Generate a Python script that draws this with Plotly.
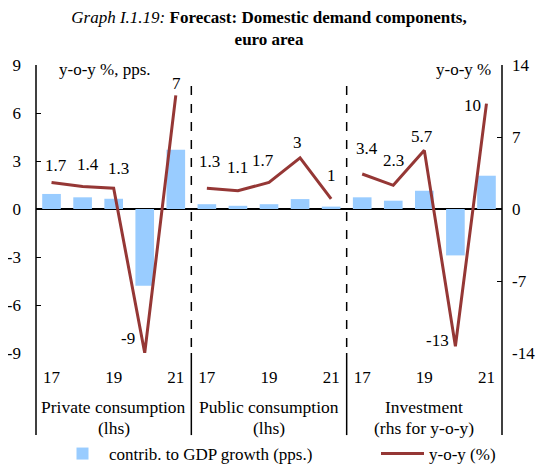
import plotly.graph_objects as go

# ---- data ----
group_names = ["Private consumption", "Public consumption", "Investment"]
group_notes = ["(lhs)", "(lhs)", "(rhs for y-o-y)"]
years = ["17", "18", "19", "20", "21"]
contrib_private = [0.94, 0.73, 0.64, -4.8, 3.7]
contrib_public = [0.3, 0.2, 0.3, 0.62, 0.15]
contrib_invest = [0.73, 0.52, 1.14, -2.9, 2.08]
yoy_private = [1.66, 1.4, 1.3, -9.0, 7.1]
yoy_public = [1.3, 1.14, 1.66, 3.2, 0.63]
yoy_invest = [3.4, 2.3, 5.7, -13.35, 10.25]
lbl_private = ["1.7", "1.4", "1.3", "-9", "7"]
lbl_public = ["1.3", "1.1", "1.7", "3", "1"]
lbl_invest = ["3.4", "2.3", "5.7", "-13", "10"]
tick_years = ["17", "19", "21"]
left_ticks = [-9, -6, -3, 0, 3, 6, 9]
right_ticks = [-14, -7, 0, 7, 14]

# label offsets (pixels)
sh_private = [(4, 17), (5, 22), (5, 20), (-17, 15), (1, 12)]
sh_public = [(3, 27), (0, 23), (-6, 22), (-3, 15), (0, 23)]
sh_invest = [(5, 26), (0, 25), (-2, 14), (-18, 6), (-14, -2)]

BAR = "#99CCFF"
LINE = "#953735"
FONT = "Liberation Serif"

# page has an 8px body margin: figure is placed at (8, 8)
W, H = 538, 456

n = len(years)
xpos = list(range(3 * n))
contrib_all = contrib_private + contrib_public + contrib_invest

fig = go.Figure()
fig.add_trace(go.Bar(x=xpos, y=contrib_all, width=0.6, marker=dict(color=BAR, line=dict(width=0)),
                     name="contrib. to GDP growth (pps.)", yaxis="y", legend="legend"))

series = [(yoy_private, "y", 0, lbl_private, sh_private),
          (yoy_public, "y", 1, lbl_public, sh_public),
          (yoy_invest, "y2", 2, lbl_invest, sh_invest)]
for vals, ax, g, lbls, shs in series:
    xs = [g * n + i for i in range(n)]
    fig.add_trace(go.Scatter(x=xs, y=vals, mode="lines", line=dict(color=LINE, width=3),
                             name="y-o-y (%)", showlegend=(g == 0), yaxis=ax, legend="legend2"))
    for xv, yv, t, (dx, dy) in zip(xs, vals, lbls, shs):
        fig.add_annotation(x=xv, y=yv, xref="x", yref=ax, text=t, showarrow=False,
                           xshift=dx, yshift=dy, font=dict(family=FONT, size=17, color="black"))

# x tick labels
tv, tt = [], []
for g in range(3):
    for t in tick_years:
        tv.append(g * n + years.index(t))
        tt.append(t)

# group labels
for g in range(3):
    fig.add_annotation(x=g * n + 2, y=-0.1875, xref="x", yref="paper", text=group_names[g], showarrow=False,
                       font=dict(family=FONT, size=17.5, color="black"), yanchor="middle")
    fig.add_annotation(x=g * n + 2, y=-0.26, xref="x", yref="paper", text=group_notes[g], showarrow=False,
                       font=dict(family=FONT, size=17.5, color="black"), yanchor="middle")

# axis unit labels
fig.add_annotation(x=0.147, y=0.983, xref="paper", yref="paper", text="y-o-y %, pps.", showarrow=False,
                   font=dict(family=FONT, size=17, color="black"), xanchor="center", yanchor="middle")
fig.add_annotation(x=0.98, y=0.983, xref="paper", yref="paper", text="y-o-y %", showarrow=False,
                   font=dict(family=FONT, size=17, color="black"), xanchor="right", yanchor="middle")

# shapes: axis lines, separators
bottom = -0.285
shapes = [
    dict(type="line", xref="paper", yref="paper", x0=0, x1=0, y0=bottom, y1=1, line=dict(color="black", width=1.5)),
    dict(type="line", xref="paper", yref="paper", x0=1, x1=1, y0=bottom, y1=1, line=dict(color="black", width=1.5)),
]
for b in (n - 0.5, 2 * n - 0.5):
    shapes.append(dict(type="line", xref="x", yref="paper", x0=b, x1=b, y0=bottom, y1=0,
                       line=dict(color="black", width=1.5)))
    shapes.append(dict(type="line", xref="x", yref="paper", x0=b, x1=b, y0=0.021, y1=0.941,
                       line=dict(color="black", width=1.5, dash="dash")))

legend_common = dict(orientation="h", xref="container", yref="container", y=1 - 446 / H,
                     xanchor="left", yanchor="middle", itemwidth=43,
                     font=dict(family=FONT, size=17), bgcolor="rgba(0,0,0,0)")

fig.update_layout(
    width=W, height=H,
    margin=dict(l=28, r=44, t=57, b=111, autoexpand=False),
    paper_bgcolor="white", plot_bgcolor="white",
    font=dict(family=FONT, size=17, color="black"),
    shapes=shapes,
    xaxis=dict(range=[-0.5, 3 * n - 0.5], tickvals=tv, ticktext=tt, showgrid=False, zeroline=False,
               showline=False, ticks="", ticklabelstandoff=12, automargin=False,
               tickfont=dict(family=FONT, size=17)),
    yaxis=dict(range=[-9, 9], tickvals=left_ticks, ticktext=[str(v) for v in left_ticks],
               showgrid=False, zeroline=True, automargin=False,
               zerolinecolor="black", zerolinewidth=1.5, showline=False, ticks="inside", ticklen=5,
               tickcolor="black", ticklabelstandoff=14, tickfont=dict(family=FONT, size=17)),
    yaxis2=dict(range=[-14, 14], tickvals=right_ticks, ticktext=[str(v) for v in right_ticks],
                overlaying="y", side="right", automargin=False,
                showgrid=False, zeroline=False, showline=False, ticks="inside", ticklen=5,
                tickcolor="black", ticklabelstandoff=9, tickfont=dict(family=FONT, size=17)),
    legend=dict(legend_common, x=48 / W),
    legend2=dict(legend_common, x=368 / W),
    showlegend=True,
    title=dict(
        text="<i>Graph I.1.19:</i> <b>Forecast: Domestic demand components,</b><br><b>euro area</b>",
        x=0.5, xanchor="center", xref="paper", y=0.968, yanchor="top", yref="container",
        font=dict(family=FONT, size=17, color="black")),
)

fig.write_html("out.html")
